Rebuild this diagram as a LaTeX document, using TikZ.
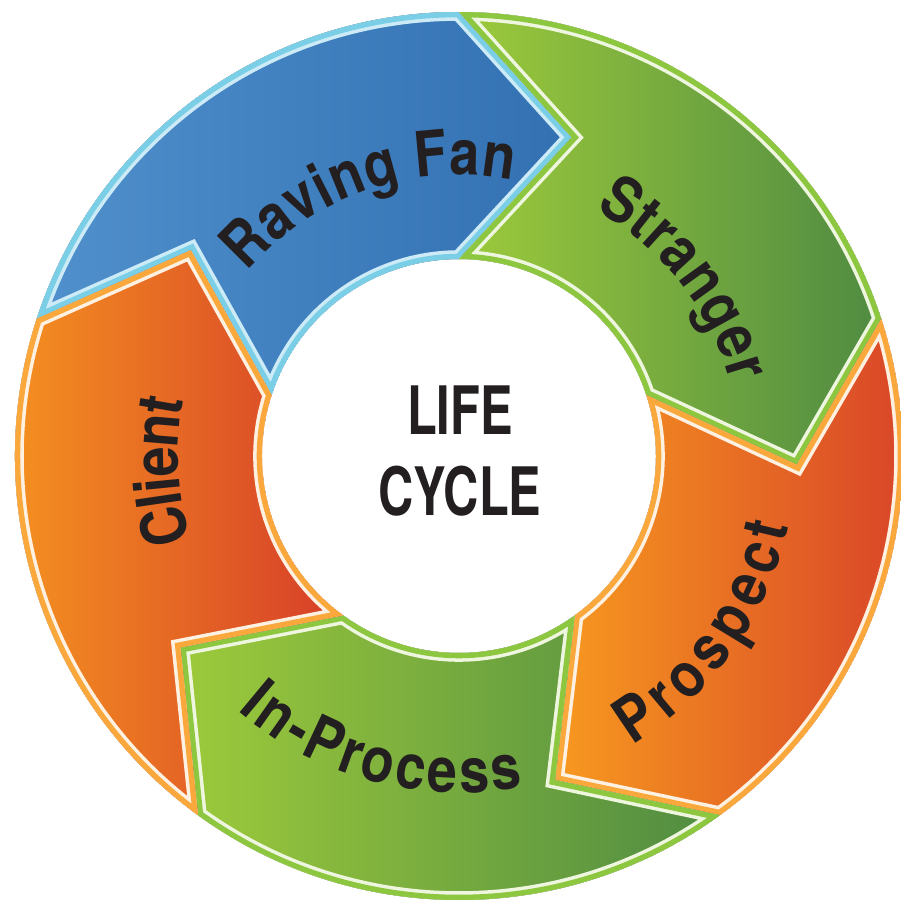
\documentclass[tikz,border=0pt]{standalone}
\usepackage{fontspec}
\usepackage{xcolor}
\usetikzlibrary{decorations.text}
\newfontfamily\labelfont[FakeStretch=0.86]{TeX Gyre Heros}
\newfontfamily\hubfont[FakeStretch=0.73]{TeX Gyre Heros}
\definecolor{ink}{HTML}{231F20}
\definecolor{rfLight}{HTML}{5090CC}
\definecolor{rfDark}{HTML}{3270B2}
\definecolor{rfRim}{HTML}{7ACFE6}
\definecolor{rfLine}{HTML}{CDEBF6}
\definecolor{grLight}{HTML}{9DCA3B}
\definecolor{grDark}{HTML}{4F8B42}
\definecolor{grRim}{HTML}{8DC63F}
\definecolor{grLine}{HTML}{EFF6DF}
\definecolor{orLight}{HTML}{F7991F}
\definecolor{orDark}{HTML}{D63D29}
\definecolor{orRim}{HTML}{FAA73C}
\definecolor{orLine}{HTML}{FEF1E2}
\tikzset{
    blue fill/.style={left color=rfLight, right color=rfDark},
    blue line/.style={draw=rfLine, line width=5pt},
    blue rim/.style={draw=rfRim, line width=3pt},
    green fill/.style={left color=grLight, right color=grDark},
    green line/.style={draw=grLine, line width=5pt},
    green rim/.style={draw=grRim, line width=3pt},
    orange fill/.style={left color=orLight, right color=orDark},
    orange line/.style={draw=orLine, line width=5pt},
    orange rim/.style={draw=orRim, line width=3pt},
    labelchar/.style={text=ink, font=\labelfont\bfseries\fontsize{17.8}{20}\selectfont},
    hub/.style={align=center, text=ink, font=\hubfont\bfseries\fontsize{19}{23}\selectfont},
}
% one arrow of the ring, starting at angle #1, going clockwise
\newcommand{\arrowseg}[1]{(#1:444) -- ({#1-19.5}:338) -- (#1:197)
    arc[start angle=#1, end angle={#1-72}, radius=197]
    -- ({#1-91.5}:338) -- ({#1-72}:444)
    arc[start angle={#1-72}, end angle=#1, radius=444] -- cycle}
\newcommand{\drawseg}[2]{%
    \begin{scope}
        \clip \arrowseg{#1};
        \fill[#2 fill] \arrowseg{#1};
        \draw[#2 line] \arrowseg{#1};
        \draw[#2 rim] \arrowseg{#1};
    \end{scope}}

\begin{document}
\begin{tikzpicture}[scale=0.01]
                 \useasboundingbox (-459,-450) rectangle (442,456);

                 \drawseg{162}{blue}
                 \drawseg{90}{green}
                 \drawseg{18}{orange}
                 \drawseg{-54}{green}
                 \drawseg{-126}{orange}

                 % labels, top ones run clockwise, bottom ones counter-clockwise
                 \path[decorate, decoration={text effects along path, text={Raving Fan},
                     text effects/.cd, text along path, fit text to path, characters={labelchar}}]
                     (139:281) arc[start angle=139, end angle=79, radius=281];
                 \path[decorate, decoration={text effects along path, text={Stranger},
                     text effects/.cd, text along path, fit text to path, characters={labelchar}}]
                     (61:281) arc[start angle=61, end angle=15, radius=281];
                 \path[decorate, decoration={text effects along path, text={Prospect},
                     text effects/.cd, text along path, fit text to path, characters={labelchar}}]
                     (-59:337) arc[start angle=-59, end angle=-12, radius=337];
                 \path[decorate, decoration={text effects along path, text={In-Process},
                     text effects/.cd, text along path, fit text to path, characters={labelchar}}]
                     (-131:337) arc[start angle=-131, end angle=-79, radius=337];
                 \path[decorate, decoration={text effects along path, text={Client},
                     text effects/.cd, text along path, fit text to path, characters={labelchar}}]
                     (197.5:281) arc[start angle=197.5, end angle=168.5, radius=281];

                 \node[hub] (hub) at (1,5) {LIFE\\CYCLE};
\end{tikzpicture}
\end{document}
